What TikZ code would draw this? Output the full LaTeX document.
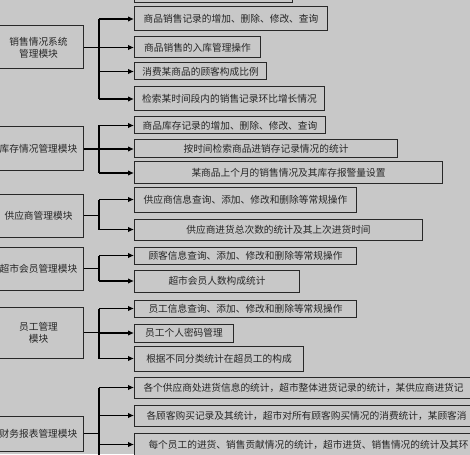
\documentclass[tikz,border=0pt]{standalone}
\usepackage{fontspec}
\newfontfamily\cjk{Noto Sans CJK SC}
\usetikzlibrary{arrows.meta}
\definecolor{bggray}{RGB}{200,200,200}
\definecolor{boxline}{RGB}{40,40,40}

\begin{document}
\begin{tikzpicture}[x=1pt,y=-1pt]
  \tikzset{modbox/.style={draw=boxline,line width=1pt,fill=bggray,inner sep=0pt,align=center,text=black!85,font=\cjk\fontsize{9.7pt}{12pt}\selectfont}}
  \tikzset{itembox/.style={draw=boxline,line width=1pt,fill=bggray,inner sep=0pt,anchor=west,text=black!85,font=\cjk\fontsize{9.7pt}{12pt}\selectfont}}
  \tikzset{longbox/.style={itembox,inner xsep=9pt,text width=340pt,align=left}}
  \tikzset{trunkline/.style={draw=black,line width=1.2pt}}
  \tikzset{branch/.style={draw=black,line width=1.1pt,-{Latex[length=6pt,width=5.5pt]}}}

  \fill[bggray] (0,0) rectangle (470,454);
  \useasboundingbox (0,0) rectangle (470,454);

  % module boxes on the left
  \node[modbox,minimum width=89pt,minimum height=43pt] (m1) at (38.5,47.5) {销售情况系统\\管理模块};
  \node[modbox,minimum width=89pt,minimum height=44pt] (m2) at (38.5,149) {库存情况管理模块};
  \node[modbox,minimum width=89pt,minimum height=43pt] (m3) at (38.5,215.5) {供应商管理模块};
  \node[modbox,minimum width=89pt,minimum height=43pt] (m4) at (38.5,268.5) {超市会员管理模块};
  \node[modbox,minimum width=89pt,minimum height=51pt] (m5) at (38.5,332.5) {员工管理\\模块};
  \node[modbox,minimum width=89pt,minimum height=35pt] (m6) at (38.5,433.5) {财务报表管理模块};

  % function boxes
  \node[itembox,minimum width=158pt,minimum height=30pt] (a0) at (134,-12) {};
  \node[itembox,minimum width=193pt,minimum height=24pt] (a1) at (134,19) {商品销售记录的增加、删除、修改、查询};
  \node[itembox,minimum width=126pt,minimum height=21pt] (a2) at (134,47.5) {商品销售的入库管理操作};
  \node[itembox,minimum width=132pt,minimum height=17pt] (a3) at (134,71.5) {消费某商品的顾客构成比例};
  \node[itembox,minimum width=190pt,minimum height=24pt] (a4) at (134,99) {检索某时间段内的销售记录环比增长情况};

  \node[itembox,minimum width=191pt,minimum height=17pt] (b1) at (134,125.5) {商品库存记录的增加、删除、修改、查询};
  \node[itembox,minimum width=263pt,minimum height=18pt] (b2) at (134,149) {按时间检索商品进销存记录情况的统计};
  \node[itembox,minimum width=308pt,minimum height=22pt] (b3) at (134,173) {某商品上个月的销售情况及其库存报警量设置};

  \node[itembox,minimum width=222pt,minimum height=25pt] (c1) at (134,199.5) {供应商信息查询、添加、修改和删除等常规操作};
  \node[itembox,minimum width=288pt,minimum height=21pt] (c2) at (134,229.5) {供应商进货总次数的统计及其上次进货时间};

  \node[itembox,minimum width=222pt,minimum height=17pt] (d1) at (134,255.5) {顾客信息查询、添加、修改和删除等常规操作};
  \node[itembox,minimum width=165pt,minimum height=22pt] (d2) at (134,281) {超市会员人数构成统计};

  \node[itembox,minimum width=222pt,minimum height=17pt] (e1) at (134,308.5) {员工信息查询、添加、修改和删除等常规操作};
  \node[itembox,minimum width=99pt,minimum height=18pt] (e2) at (134,333) {员工个人密码管理};
  \node[itembox,minimum width=169pt,minimum height=25pt] (e3) at (134,358.5) {根据不同分类统计在超员工的构成};

  \node[longbox,minimum height=21pt] (f1) at (134,387.5) {各个供应商处进货信息的统计，超市整体进货记录的统计，某供应商进货记};
  \node[longbox,minimum height=21pt,inner xsep=12pt] (f2) at (134,415.5) {各顾客购买记录及其统计，超市对所有顾客购买情况的消费统计，某顾客消};
  \node[longbox,minimum height=23pt,inner xsep=14pt] (f3) at (134,444.5) {每个员工的进货、销售贡献情况的统计，超市进货、销售情况的统计及其环};
  \coordinate (f4) at (134,462);

  % trunk positions
  \coordinate (t) at (99,0);

  \draw[trunkline] (m1.east) -- (t |- m1.east);
  \draw[trunkline] (t |- a1.west) -- (t |- a4.west);
  \foreach \k in {a1,a2,a3,a4}
    \draw[branch] (t |- \k.west) -- (\k.west);

  \draw[trunkline] (m2.east) -- (t |- m2.east);
  \draw[trunkline] (t |- b1.west) -- (t |- b3.west);
  \foreach \k in {b1,b2,b3}
    \draw[branch] (t |- \k.west) -- (\k.west);

  \draw[trunkline] (m3.east) -- (t |- m3.east);
  \draw[trunkline] (t |- c1.west) -- (t |- c2.west);
  \foreach \k in {c1,c2}
    \draw[branch] (t |- \k.west) -- (\k.west);

  \draw[trunkline] (m4.east) -- (t |- m4.east);
  \draw[trunkline] (t |- d1.west) -- (t |- d2.west);
  \foreach \k in {d1,d2}
    \draw[branch] (t |- \k.west) -- (\k.west);

  \draw[trunkline] (m5.east) -- (t |- m5.east);
  \draw[trunkline] (t |- e1.west) -- (t |- e3.west);
  \foreach \k in {e1,e2,e3}
    \draw[branch] (t |- \k.west) -- (\k.west);

  \draw[trunkline] (m6.east) -- (t |- m6.east);
  \draw[trunkline] (t |- f1.west) -- (t |- f4);
  \foreach \k in {f1,f2,f3}
    \draw[branch] (t |- \k.west) -- (\k.west);
\end{tikzpicture}
\end{document}
